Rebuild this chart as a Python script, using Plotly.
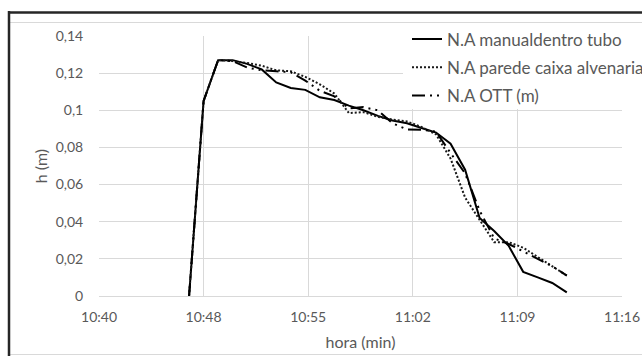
import plotly.graph_objects as go

# ---- data ----
times = ["10:47", "10:48", "10:49", "10:50", "10:51", "10:52", "10:53", "10:54", "10:55",
         "10:56", "10:57", "10:58", "10:59", "11:00", "11:01", "11:02", "11:03", "11:04",
         "11:05", "11:06", "11:07", "11:08", "11:09", "11:10", "11:11", "11:12", "11:13"]
na_manual = [0, 0.105, 0.127, 0.127, 0.125, 0.122, 0.115, 0.112, 0.111, 0.107, 0.1055, 0.1025,
             0.100, 0.097, 0.0945, 0.093, 0.0905, 0.088, 0.082, 0.068, 0.042, 0.035, 0.027,
             0.013, 0.010, 0.007, 0.002]
na_parede = [0, 0.105, 0.127, 0.1265, 0.1255, 0.124, 0.1215, 0.121, 0.118, 0.114, 0.109, 0.0985,
             0.099, 0.0965, 0.095, 0.094, 0.091, 0.087, 0.074, 0.053, 0.041, 0.029, 0.029,
             0.026, 0.021, 0.016, 0.011]
na_ott = [0, 0.105, 0.127, 0.1265, 0.123, 0.1215, 0.121, 0.1205, 0.116, 0.1105, 0.1075, 0.101,
          0.1017, 0.100, 0.093, 0.0897, 0.0895, 0.0885, 0.077, 0.066, 0.046, 0.031, 0.028,
          0.024, 0.020, 0.016, 0.011]
series_names = ["N.A manualdentro tubo", "N.A parede caixa alvenaria", "N.A OTT (m)"]
x_tick_times = ["10:40:48", "10:48:00", "10:55:12", "11:02:24", "11:09:36", "11:16:48"]
x_tick_labels = ["10:40", "10:48", "10:55", "11:02", "11:09", "11:16"]
y_tick_vals = [0, 0.02, 0.04, 0.06, 0.08, 0.10, 0.12, 0.14]
y_tick_labels = ["0", "0,02", "0,04", "0,06", "0,08", "0,1", "0,12", "0,14"]

DAY = "2024-01-01 "
xs = [DAY + t + ":00" for t in times]
xt = [DAY + t for t in x_tick_times]

W, H = 642, 356
L, T, R, B = 99, 36, 20, 60
PW, PH = W - L - R, H - T - B


def px(x):
    return (x - L) / PW


def py(y):
    return (H - B - y) / PH


FONT = "Lato, Open Sans, sans-serif"
GRAY = "#595959"

fig = go.Figure()
styles = [
    dict(color="#000000", width=2, dash="solid"),
    dict(color="#1a1a1a", width=2, dash="2px,2px"),
    dict(color="#000000", width=2, dash="13px,5px,2px,5px,2px,5px"),
]
legend_ids = ["legend", "legend2", "legend3"]
for name, ys, st, lg in zip(series_names, [na_manual, na_parede, na_ott], styles, legend_ids):
    fig.add_trace(go.Scatter(x=xs, y=ys, mode="lines", name=name, line=st, legend=lg))

legend_rows = [39.5, 67.8, 96]
leg_common = dict(xanchor="left", yanchor="middle", bgcolor="rgba(0,0,0,0)",
                  borderwidth=0, font=dict(family=FONT, size=17, color=GRAY))
legs = {}
for lg, row in zip(legend_ids, legend_rows):
    legs[lg] = dict(x=px(407), y=py(row), **leg_common)

shapes = [
    # white legend background
    dict(type="rect", xref="paper", yref="paper", x0=px(403), x1=px(660), y0=py(24), y1=py(109),
         fillcolor="white", line=dict(width=0), layer="above"),
    # chart area border (light gray)
    dict(type="line", xref="paper", yref="paper", x0=px(9), x1=px(660), y0=py(22.5), y1=py(22.5),
         line=dict(color="#d9d9d9", width=1)),
    dict(type="line", xref="paper", yref="paper", x0=px(9), x1=px(660), y0=py(354.5), y1=py(354.5),
         line=dict(color="#d9d9d9", width=1)),
    # dark outer frame
    dict(type="line", xref="paper", yref="paper", x0=px(9), x1=px(9), y0=py(11), y1=py(360),
         line=dict(color="#262626", width=2.5)),
    dict(type="line", xref="paper", yref="paper", x0=px(8), x1=px(660), y0=py(12.5), y1=py(12.5),
         line=dict(color="#262626", width=2.5)),
]

fig.update_layout(
    width=W, height=H,
    margin=dict(l=L, r=R, t=T, b=B, autoexpand=False),
    paper_bgcolor="white", plot_bgcolor="white",
    font=dict(family=FONT, size=14, color=GRAY),
    showlegend=True,
    shapes=shapes,
    **legs,
)
fig.update_xaxes(
    type="date", range=[xt[0], xt[-1]],
    tickmode="array", tickvals=xt, ticktext=x_tick_labels,
    showgrid=True, gridcolor="#d9d9d9", gridwidth=1,
    showline=True, linecolor="#d9d9d9", zeroline=False,
    ticks="outside", ticklen=8, tickcolor="rgba(0,0,0,0)",
    tickfont=dict(family=FONT, size=14, color=GRAY),
    title=dict(text="hora (min)", font=dict(family=FONT, size=16, color=GRAY), standoff=13),
    automargin=False,
)
fig.update_yaxes(
    range=[0, 0.14], tickmode="array", tickvals=y_tick_vals, ticktext=y_tick_labels,
    showgrid=True, gridcolor="#d9d9d9", gridwidth=1,
    showline=False, zeroline=False,
    ticks="outside", ticklen=12, tickcolor="rgba(0,0,0,0)",
    tickfont=dict(family=FONT, size=14, color=GRAY),
    title=dict(text="h (m)", font=dict(family=FONT, size=16, color=GRAY), standoff=4),
    automargin=False,
)

fig.write_html(
    "out.html",
    config={"displayModeBar": False},
    post_script="document.body.style.margin='0';document.body.style.overflow='hidden';",
)
